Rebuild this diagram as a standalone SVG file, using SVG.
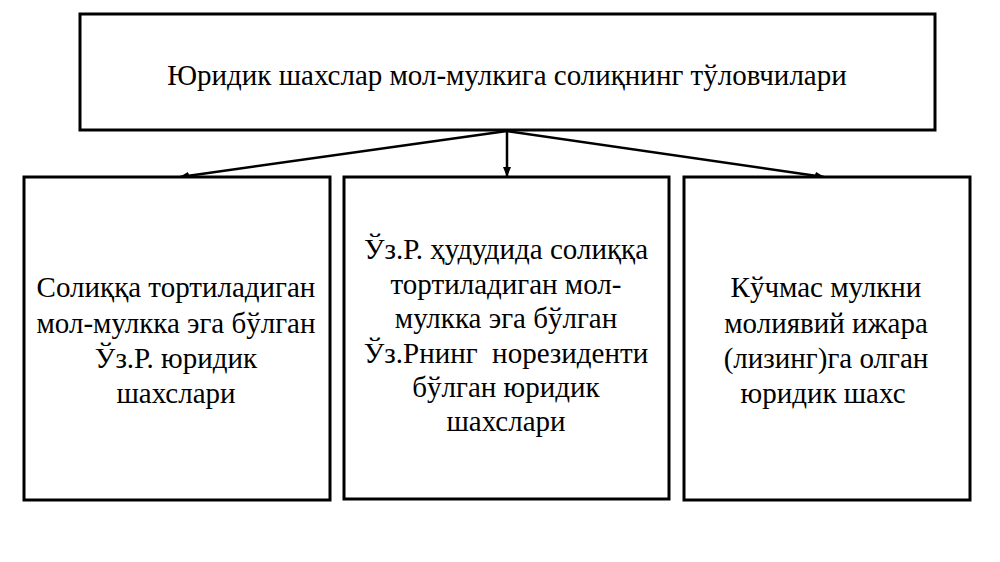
<svg xmlns="http://www.w3.org/2000/svg" width="1000" height="562" viewBox="0 0 1000 562">
<style>
.box{fill:#fff;stroke:#000;stroke-width:3}
.t{font-family:'Liberation Serif',serif;font-size:29px;fill:#000;text-anchor:middle}
.c{stroke:#000;stroke-width:2.5;fill:none;marker-end:url(#ah)}
</style>
<defs>
<marker id="ah" markerWidth="10" markerHeight="8" refX="9" refY="4" orient="auto" markerUnits="userSpaceOnUse">
<path d="M0,0 L10,4 L0,8 z" fill="#000"/>
</marker>
</defs>
<rect width="1000" height="562" fill="#fff"/>
<g id="connectors">
<line class="c" x1="507" y1="131" x2="180" y2="177"/>
<line class="c" x1="507" y1="131" x2="507" y2="176"/>
<line class="c" x1="507" y1="131" x2="824" y2="177"/>
</g>
<g id="root">
<rect class="box" x="80" y="14" width="855" height="116"/>
<text class="t" x="507" y="85">Юридик шахслар мол-мулкига солиқнинг тўловчилари</text>
</g>
<g id="left">
<rect class="box" x="24" y="177" width="306" height="323"/>
<text class="t" x="176" y="297">Солиққа тортиладиган</text>
<text class="t" x="176" y="333">мол-мулкка эга бўлган</text>
<text class="t" x="176" y="368">Ўз.Р. юридик</text>
<text class="t" x="176" y="403">шахслари</text>
</g>
<g id="middle">
<rect class="box" x="344" y="177" width="325" height="322"/>
<text class="t" x="506" y="259">Ўз.Р. ҳудудида солиққа</text>
<text class="t" x="506" y="294">тортиладиган мол-</text>
<text class="t" x="506" y="328">мулкка эга бўлган</text>
<text class="t" x="506" y="363" xml:space="preserve">Ўз.Рнинг  норезиденти</text>
<text class="t" x="506" y="397">бўлган юридик</text>
<text class="t" x="506" y="431">шахслари</text>
</g>
<g id="right">
<rect class="box" x="684" y="177" width="286" height="323"/>
<text class="t" x="826" y="297">Кўчмас мулкни</text>
<text class="t" x="826" y="333">молиявий ижара</text>
<text class="t" x="826" y="368">(лизинг)га олган</text>
<text class="t" x="823" y="403">юридик шахс</text>
</g>
</svg>
